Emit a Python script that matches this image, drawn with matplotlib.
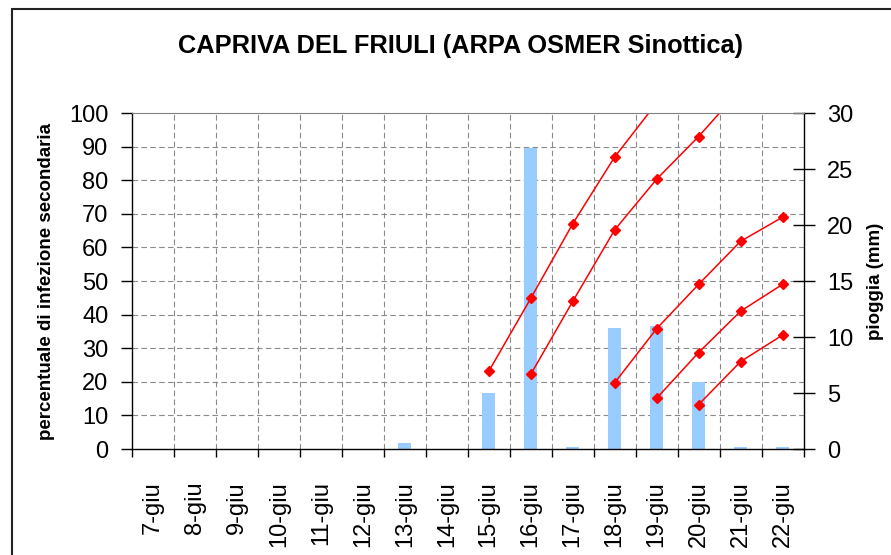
import numpy as np
import matplotlib.pyplot as plt
from matplotlib.patches import Rectangle

plt.rcParams['font.family'] = ['Liberation Sans', 'DejaVu Sans']

giorni = ['7-giu', '8-giu', '9-giu', '10-giu', '11-giu', '12-giu', '13-giu', '14-giu',
          '15-giu', '16-giu', '17-giu', '18-giu', '19-giu', '20-giu', '21-giu', '22-giu']
# pioggia giornaliera (mm)
pioggia = [0, 0, 0, 0, 0, 0, 0.5, 0, 5.0, 26.9, 0.15, 10.8, 11.0, 6.0, 0.15, 0.15]

# percentuale di infezione secondaria, una serie per ogni evento
n = np.nan
inf_15 = [n, n, n, n, n, n, n, n, 23.1, 44.8, 67.0, 86.9, 103.0, n, n, n]
inf_16 = [n, n, n, n, n, n, n, n, n, 22.2, 43.9, 65.2, 80.3, 93.0, 107.0, n]
inf_18 = [n, n, n, n, n, n, n, n, n, n, n, 19.7, 35.8, 49.0, 61.8, 69.0]
inf_19 = [n, n, n, n, n, n, n, n, n, n, n, n, 15.1, 28.7, 41.0, 49.0]
inf_20 = [n, n, n, n, n, n, n, n, n, n, n, n, n, 13.2, 26.0, 33.9]
serie = [inf_15, inf_16, inf_18, inf_19, inf_20]

W, H = 891, 555
fig = plt.figure(figsize=(W / 100, H / 100), dpi=100)
x0, x1, y0, y1 = 132, 803.5, 113, 449
ax = fig.add_axes([x0 / W, 1 - y1 / H, (x1 - x0) / W, (y1 - y0) / H])
ax2 = ax.twinx()
ax.set_zorder(2)
ax.patch.set_visible(False)
ax2.set_zorder(1)

x = np.arange(len(giorni))

# griglia e barre sull'asse della pioggia
grid_kw = dict(color='#8a8a8a', lw=0.8, dashes=(5, 3), zorder=0)
for mm in np.arange(3, 30, 3):
    ax2.axhline(mm, **grid_kw)
for b in np.arange(0.5, len(giorni) - 1, 1):
    ax2.axvline(b, **grid_kw)
ax2.bar(x, pioggia, width=0.31, color='#99CCFF', zorder=2)
ax2.set_ylim(0, 30)
ax2.set_yticks(np.arange(0, 31, 5))
ax2.tick_params(axis='y', direction='inout', length=16, width=1, pad=9, labelsize=17)

for s in serie:
    ax.plot(x, s, color='red', lw=1.1, marker='D', markersize=5)
ax.set_ylim(0, 100)
ax.set_xlim(-0.5, len(giorni) - 0.5)
ax.set_yticks(np.arange(0, 101, 10))
ax.tick_params(axis='y', direction='out', length=8, width=1, pad=9, labelsize=17)
ax.set_xticks(x)
ax.set_xticklabels(giorni, rotation=90)
ax.set_xticks(np.arange(-0.5, len(giorni), 1), minor=True)
ax.tick_params(axis='x', which='major', length=0, pad=23, labelsize=17)
ax.tick_params(axis='x', which='minor', direction='out', length=6, width=1)

for a in (ax, ax2):
    for side in ('left', 'right', 'top', 'bottom'):
        a.spines[side].set_visible(False)
ax.spines['left'].set_visible(True)
ax.spines['bottom'].set_visible(True)
ax.spines['top'].set_visible(True)
ax.spines['top'].set_color('#808080')
ax2.spines['right'].set_visible(True)
for sp in (ax.spines['left'], ax.spines['bottom'], ax2.spines['right']):
    sp.set_color('black')
    sp.set_linewidth(1)

fig.text(461 / W, 1 - 46 / H, 'CAPRIVA DEL FRIULI (ARPA OSMER Sinottica)',
         ha='center', va='center', fontsize=18.3, fontweight='bold')
fig.text(47 / W, 1 - 281 / H, 'percentuale di infezione secondaria', rotation=90,
         ha='center', va='center', fontsize=13.5, fontweight='bold')
fig.text(875 / W, 1 - 281 / H, 'pioggia (mm)', rotation=90,
         ha='center', va='center', fontsize=13.5, fontweight='bold')

# cornice del grafico
fig.patches.append(Rectangle((12 / W, -0.1), 1.2, 1.1 - 8.5 / H, transform=fig.transFigure,
                             fill=False, edgecolor='#222222', lw=1.5))

fig.savefig('out.png', dpi=100)
